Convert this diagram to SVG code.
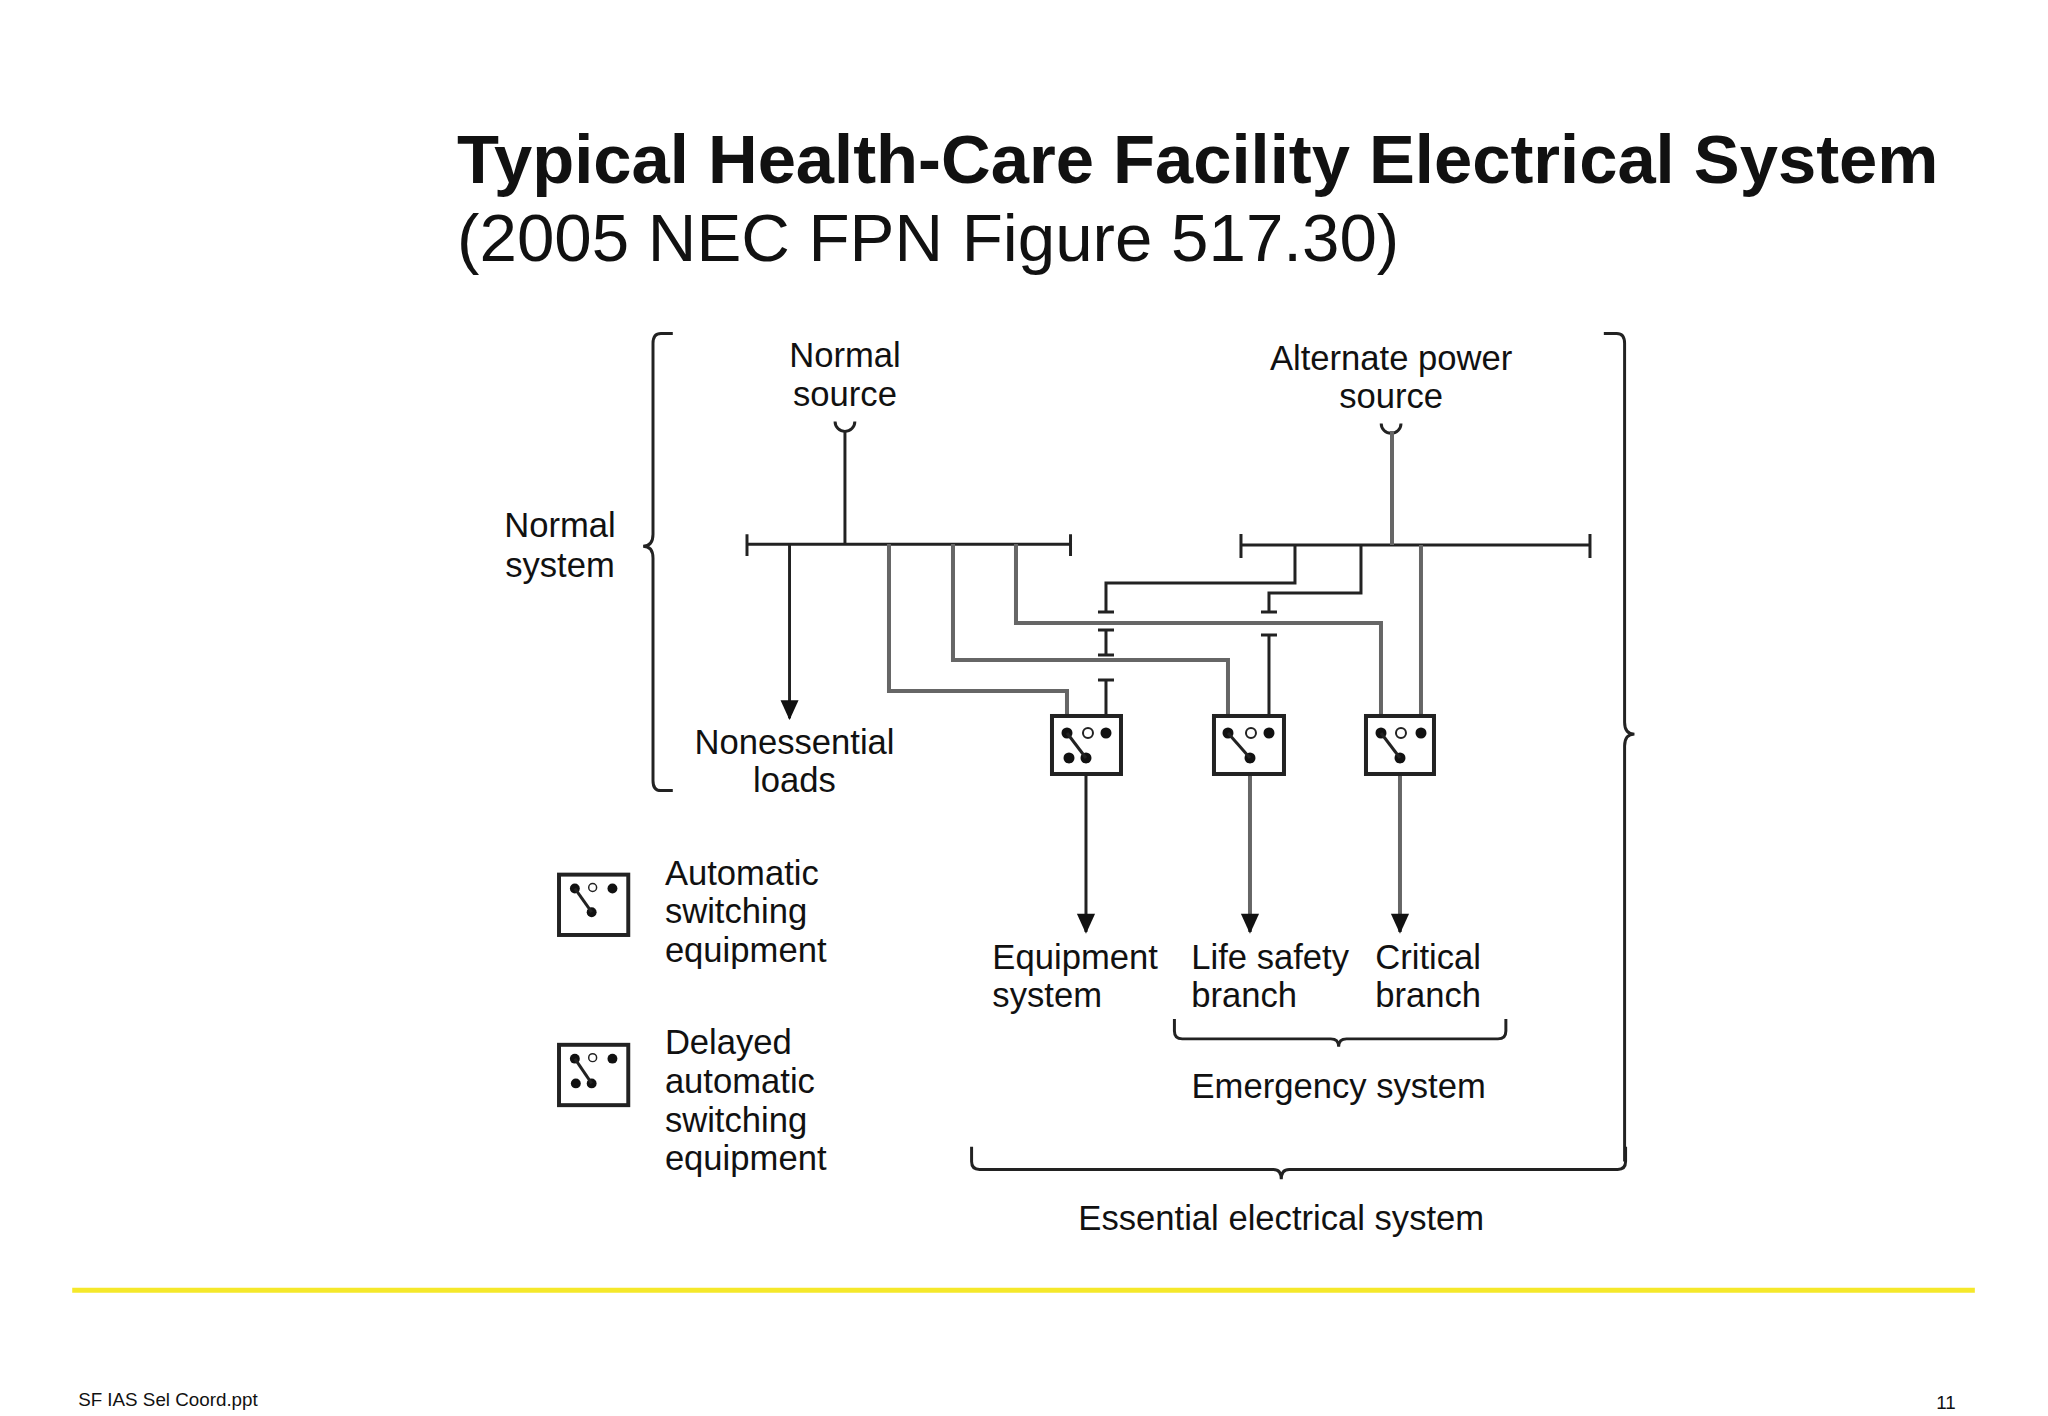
<svg xmlns="http://www.w3.org/2000/svg" width="2048" height="1416" viewBox="0 0 2048 1416">
<style>
.t{font-family:"Liberation Sans",Arial,sans-serif;fill:#111}
.l{font-size:35px}
.w{stroke:#222;stroke-width:3;fill:none}
.g{stroke:#666;stroke-width:4;fill:none}
.box{fill:#fff;stroke:#222;stroke-width:4}
.d{fill:#111}
</style>
<defs>
<marker id="ah" markerWidth="20" markerHeight="26" refX="11" refY="20" orient="0" markerUnits="userSpaceOnUse" viewBox="0 0 22 22"><path d="M1,0 L21,0 L11,22 z" fill="#111"/></marker>
</defs>
<rect width="2048" height="1416" fill="#fff"/>
<g transform="scale(0.9894)">
<text class="t" x="462" y="185" font-size="69.5" font-weight="bold">Typical Health-Care Facility Electrical System</text>
<text class="t" x="462" y="264" font-size="68">(2005 NEC FPN Figure 517.30)</text>

<g id="normal-source"><text class="t l" x="854" y="371" text-anchor="middle">Normal</text><text class="t l" x="854" y="410" text-anchor="middle">source</text><path class="w" d="M844,426 a10,10 0 0 0 20,0"/></g>
<g id="alternate-source"><text class="t l" x="1406" y="374" text-anchor="middle">Alternate power</text><text class="t l" x="1406" y="412" text-anchor="middle">source</text><path class="w" d="M1396,428 a10,10 0 0 0 20,0"/></g>
<g id="normal-system"><text class="t l" x="566" y="543" text-anchor="middle">Normal</text><text class="t l" x="566" y="583" text-anchor="middle">system</text><path class="w" d="M680,337 H668 Q660,337 660,347 V540 Q660,552 650,552 Q660,552 660,564 V789 Q660,799 668,799 H680"/></g>
<g id="nonessential"><text class="t l" x="803" y="762" text-anchor="middle">Nonessential</text><text class="t l" x="803" y="800" text-anchor="middle">loads</text></g>

<g id="buses">
<path class="w" d="M755,550 H1082 M755,540 V562 M1082,540 V562"/>
</g>
<path class="w" d="M854,436 V550"/>
<path class="w" d="M798,550 V726" marker-end="url(#ah)"/>

<g transform="scale(1.0107)">
<path class="w" d="M1241,545 H1590 M1241,534 V558 M1590,534 V558"/>
<g id="connectors">
<path class="g" d="M1392,431 V545"/>
<path class="g" d="M889,544 V691 H1067 V733"/>
<path class="g" d="M953,544 V660 H1228 V733"/>
<path class="g" d="M1016,544 V623 H1381 V733"/>
<path class="g" d="M1421,545 V733"/>
<path class="w" d="M1295,545 V583 H1106 V612 M1098,612 H1114 M1098,630 H1114 M1106,630 V655 M1098,655 H1114 M1098,680 H1114 M1106,680 V733"/>
<path class="w" d="M1361,545 V593 H1269 V612 M1261,612 H1277 M1261,635 H1277 M1269,635 V733"/>
<path class="w" d="M1086,758 V932" marker-end="url(#ah)"/>
<path class="g" d="M1250,758 V932" marker-end="url(#ah)"/>
<path class="g" d="M1400,758 V932" marker-end="url(#ah)"/>
</g>
<g id="ats1"><rect class="box" x="1052" y="716" width="69" height="58"/><circle class="d" cx="1067" cy="733" r="5.5"/><circle cx="1088" cy="733" r="5" fill="#fff" stroke="#222" stroke-width="2"/><circle class="d" cx="1106" cy="733" r="5.5"/><circle class="d" cx="1069" cy="758" r="5.5"/><circle class="d" cx="1086" cy="758" r="5.5"/><path class="w" d="M1067,733 L1086,758"/></g>
<g id="ats2"><rect class="box" x="1214" y="716" width="70" height="58"/><circle class="d" cx="1228" cy="733" r="5.5"/><circle cx="1251" cy="733" r="5" fill="#fff" stroke="#222" stroke-width="2"/><circle class="d" cx="1269" cy="733" r="5.5"/><circle class="d" cx="1250" cy="758" r="5.5"/><path class="w" d="M1228,733 L1250,758"/></g>
<g id="ats3"><rect class="box" x="1366" y="716" width="68" height="58"/><circle class="d" cx="1381" cy="733" r="5.5"/><circle cx="1401" cy="733" r="5" fill="#fff" stroke="#222" stroke-width="2"/><circle class="d" cx="1421" cy="733" r="5.5"/><circle class="d" cx="1400" cy="758" r="5.5"/><path class="w" d="M1381,733 L1400,758"/></g>
</g>

<g id="equipment"><text class="t l" x="1003" y="979">Equipment</text><text class="t l" x="1003" y="1018">system</text></g>
<g id="life-safety"><text class="t l" x="1204" y="979">Life safety</text><text class="t l" x="1204" y="1018">branch</text></g>
<g id="critical"><text class="t l" x="1390" y="979">Critical</text><text class="t l" x="1390" y="1018">branch</text></g>
<g id="emergency"><path class="w" d="M1187,1030 V1042 Q1187,1050 1195,1050 H1345 Q1353,1050 1353,1058 Q1353,1050 1361,1050 H1514 Q1522,1050 1522,1042 V1030"/><text class="t l" x="1353" y="1110" text-anchor="middle">Emergency system</text></g>
<g id="essential"><path class="w" d="M982,1159 V1174 Q982,1182 990,1182 H1287 Q1295,1182 1295,1192 Q1295,1182 1303,1182 H1635 Q1643,1182 1643,1174 V1159"/><path class="w" d="M1621,337 H1634 Q1642,337 1642,347 V730 Q1642,742 1652,742 Q1642,742 1642,754 V1174"/><text class="t l" x="1295" y="1243" text-anchor="middle">Essential electrical system</text></g>

<g id="legend-auto"><rect class="box" x="565" y="884" width="70" height="61"/><circle class="d" cx="581" cy="898" r="5"/><circle cx="599" cy="897" r="4" fill="#fff" stroke="#222" stroke-width="1.5"/><circle class="d" cx="619" cy="898" r="5"/><circle class="d" cx="598" cy="922" r="5"/><path class="w" d="M581,898 L598,922"/><text class="t l" x="672" y="894">Automatic</text><text class="t l" x="672" y="933">switching</text><text class="t l" x="672" y="972">equipment</text></g>
<g id="legend-delayed"><rect class="box" x="565" y="1056" width="70" height="61"/><circle class="d" cx="581" cy="1070" r="5"/><circle cx="599" cy="1069" r="4" fill="#fff" stroke="#222" stroke-width="1.5"/><circle class="d" cx="619" cy="1070" r="5"/><circle class="d" cx="582" cy="1095" r="5"/><circle class="d" cx="598" cy="1095" r="5"/><path class="w" d="M581,1070 L598,1095"/><text class="t l" x="672" y="1065">Delayed</text><text class="t l" x="672" y="1105">automatic</text><text class="t l" x="672" y="1144">switching</text><text class="t l" x="672" y="1183">equipment</text></g>

<line x1="73" y1="1304" x2="1996" y2="1304" stroke="#f5e82a" stroke-width="5"/>
<text class="t" x="79" y="1421" font-size="19">SF IAS Sel Coord.ppt</text>
<text class="t" x="1957" y="1424" font-size="19">11</text>
</g>
</svg>
